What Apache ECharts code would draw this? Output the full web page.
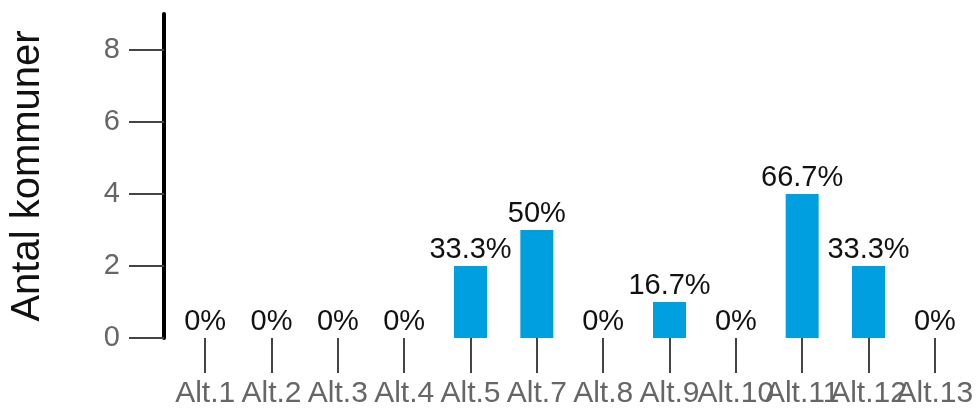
<!DOCTYPE html>
<html>
<head>
<meta charset="utf-8">
<script src="https://cdn.jsdelivr.net/npm/echarts@6/dist/echarts.min.js"></script>
<style>
  html, body { margin: 0; padding: 0; background: #fff; }
  #chart { width: 978px; height: 409px; }
</style>
</head>
<body>
<div id="chart"></div>
<script>
// Number of municipalities choosing each alternative
const categories = ['Alt.1', 'Alt.2', 'Alt.3', 'Alt.4', 'Alt.5', 'Alt.7', 'Alt.8', 'Alt.9', 'Alt.10', 'Alt.11', 'Alt.12', 'Alt.13'];
const counts = [0, 0, 0, 0, 2, 3, 0, 1, 0, 4, 2, 0];
const totalMunicipalities = 6;
const yTicks = [0, 2, 4, 6, 8];

const font = '"Liberation Sans", Arial, Helvetica, sans-serif';

const chart = echarts.init(document.getElementById('chart'), null, { renderer: 'canvas' });

chart.setOption({
  animation: false,
  backgroundColor: '#ffffff',
  grid: { left: 170, right: 10, top: 14, bottom: 71, containLabel: false },
  xAxis: {
    type: 'category',
    data: categories,
    axisLine: { show: false },
    axisTick: {
      show: true,
      alignWithLabel: true,
      length: 35,
      lineStyle: { color: '#444', width: 2 }
    },
    axisLabel: {
      interval: 0,
      margin: 41,
      color: '#666',
      fontSize: 30,
      fontFamily: font,
      hideOverlap: false
    },
    splitLine: { show: false }
  },
  yAxis: {
    type: 'value',
    min: 0,
    max: 9,
    offset: 8,
    name: 'Antal kommuner',
    nameLocation: 'middle',
    nameGap: 116,
    nameTextStyle: { color: '#111', fontSize: 40, fontFamily: font },
    axisLine: { show: true, lineStyle: { color: '#000', width: 4 } },
    axisTick: {
      show: true,
      length: 35,
      customValues: yTicks,
      lineStyle: { color: '#444', width: 2 }
    },
    axisLabel: {
      customValues: yTicks,
      margin: 44,
      color: '#666',
      fontSize: 29,
      fontFamily: font
    },
    splitLine: { show: false }
  },
  series: [{
    type: 'bar',
    data: counts,
    barWidth: 33,
    itemStyle: { color: '#009fe0' },
    label: {
      show: true,
      position: 'top',
      distance: 2,
      color: '#111',
      fontSize: 29,
      fontFamily: font,
      formatter: p => {
        const pct = p.value / totalMunicipalities * 100;
        return (Math.round(pct * 10) / 10) + '%';
      }
    }
  }]
});
</script>
</body>
</html>
